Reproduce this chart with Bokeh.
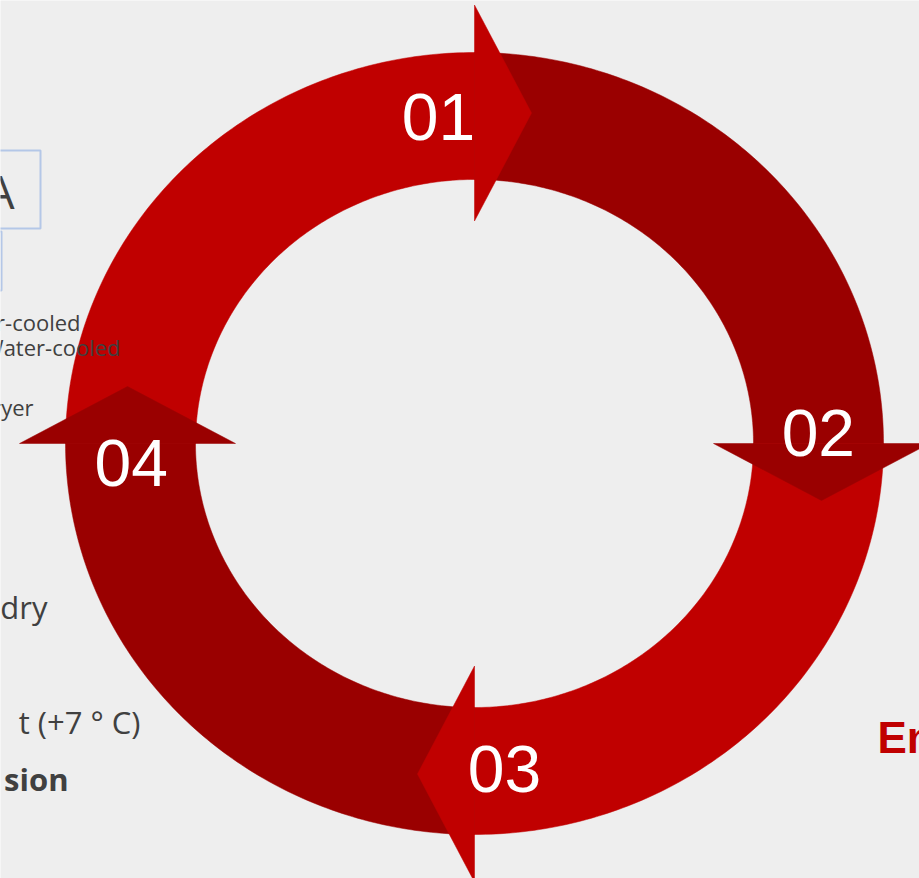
import numpy as np
from bokeh.plotting import figure
from bokeh.models import Range1d
from bokeh.core.properties import value
from bokeh.embed import file_html
from bokeh.resources import INLINE

# ---------------- data ----------------
step_labels = ["01", "02", "03", "04"]
step_colors = ["#C00000", "#9A0000", "#C00000", "#9A0000"]
step_start_deg = [180, 90, 0, -90]     # each step is a quarter of the cycle, clockwise
step_end_deg = [90, 0, -90, -180]

side_small = ["r-cooled", "Water-cooled", "ryer"]
side_large = ["dry", "t (+7 ° C)"]
side_bold = ["sion"]
box_label = ["A"]
right_label = ["En"]

# ---------------- layout ----------------
W, H = 919, 878
CX, CY = 474, 443
A_OUT, B_OUT = 409, 391
A_IN, B_IN = 279, 264
A_MID, B_MID = (A_OUT + A_IN) / 2, (B_OUT + B_IN) / 2
HEAD_HALF, HEAD_LEN, HEAD_SHIFT = 108, 57, 3
LABEL_BACK_DEG = [6, 1.7, 5, 3.5]
SHIFT = 0.37   # baseline correction (fraction of font size)

BG = "#eeeeee"
TEXT_GREY = "#404040"

p = figure(width=W, height=H, x_range=Range1d(0, W), y_range=Range1d(H, 0),
           output_backend="svg", toolbar_location=None, min_border=0,
           background_fill_color=BG, border_fill_color=BG, outline_line_color=None)
p.axis.visible = False
p.grid.visible = False


def ell(theta, a, b):
    return CX + a * np.cos(theta), CY - b * np.sin(theta)


def base(y, size):
    return [v - SHIFT * size for v in y]


# ring bodies
body_xs, body_ys = [], []
for s, e in zip(step_start_deg, step_end_deg):
    t = np.radians(np.linspace(s, e, 120))
    xo, yo = ell(t, A_OUT, B_OUT)
    xi, yi = ell(t[::-1], A_IN, B_IN)
    body_xs.append(list(np.concatenate([xo, xi])))
    body_ys.append(list(np.concatenate([yo, yi])))
p.patches(xs=body_xs, ys=body_ys, fill_color=step_colors, line_color=step_colors, line_width=0.5)

# arrow heads at the end of each step
head_xs, head_ys = [], []
for e in step_end_deg:
    th = np.radians(e)
    ux, uy = np.cos(th), -np.sin(th)          # radial direction (screen)
    tx, ty = np.sin(th), np.cos(th)           # clockwise tangent (screen)
    mx, my = ell(th, A_MID, B_MID)
    mx, my = mx + HEAD_SHIFT * ux, my + HEAD_SHIFT * uy
    head_xs.append([mx + HEAD_HALF * ux, mx + HEAD_LEN * tx, mx - HEAD_HALF * ux])
    head_ys.append([my + HEAD_HALF * uy, my + HEAD_LEN * ty, my - HEAD_HALF * uy])
p.patches(xs=head_xs, ys=head_ys, fill_color=step_colors, line_color=step_colors, line_width=0.5)

# step numbers
lx, ly = [], []
for e, back in zip(step_end_deg, LABEL_BACK_DEG):
    x, y = ell(np.radians(e + back), A_MID, B_MID)
    lx.append(x)
    ly.append(y + 24)
p.text(x=lx, y=base(ly, 66), text=step_labels, text_color="white",
       text_font=value("Liberation Sans"), text_font_size="66px", text_align="center",
       text_baseline="alphabetic")

# left side fragments
p.quad(left=[-20], right=[40], top=[150], bottom=[228], fill_color=None,
       line_color="#B4C7E7", line_width=2)
p.quad(left=[-60], right=[1], top=[231], bottom=[290], fill_color=None,
       line_color="#B4C7E7", line_width=2)
p.text(x=[14], y=base([208], 46), text=box_label, text_color=TEXT_GREY,
       text_font=value("Open Sans"), text_font_size="46px", text_align="right",
       text_baseline="alphabetic")
p.text(x=[80, 120, 33], y=base([330, 355, 415], 22), text=side_small, text_color=TEXT_GREY,
       text_font=value("Open Sans"), text_font_size="22px", text_align="right",
       text_baseline="alphabetic")
p.text(x=[47, 140], y=base([618, 733], 31), text=side_large, text_color=TEXT_GREY,
       text_font=value("Open Sans"), text_font_size="31px", text_align="right",
       text_baseline="alphabetic")
p.text(x=[68], y=base([790], 31), text=side_bold, text_color=TEXT_GREY,
       text_font=value("Open Sans"), text_font_style="bold", text_font_size="31px",
       text_align="right", text_baseline="alphabetic")

# right side fragment
p.text(x=[877], y=base([753], 44), text=right_label, text_color="#C00000",
       text_font=value("Liberation Sans"), text_font_style="bold", text_font_size="44px",
       text_align="left", text_baseline="alphabetic")

html = file_html(p, INLINE)
html = html.replace("<head>", "<head><style>html,body{margin:0;padding:0;overflow:hidden;}</style>", 1)
open("out.html", "w").write(html)
